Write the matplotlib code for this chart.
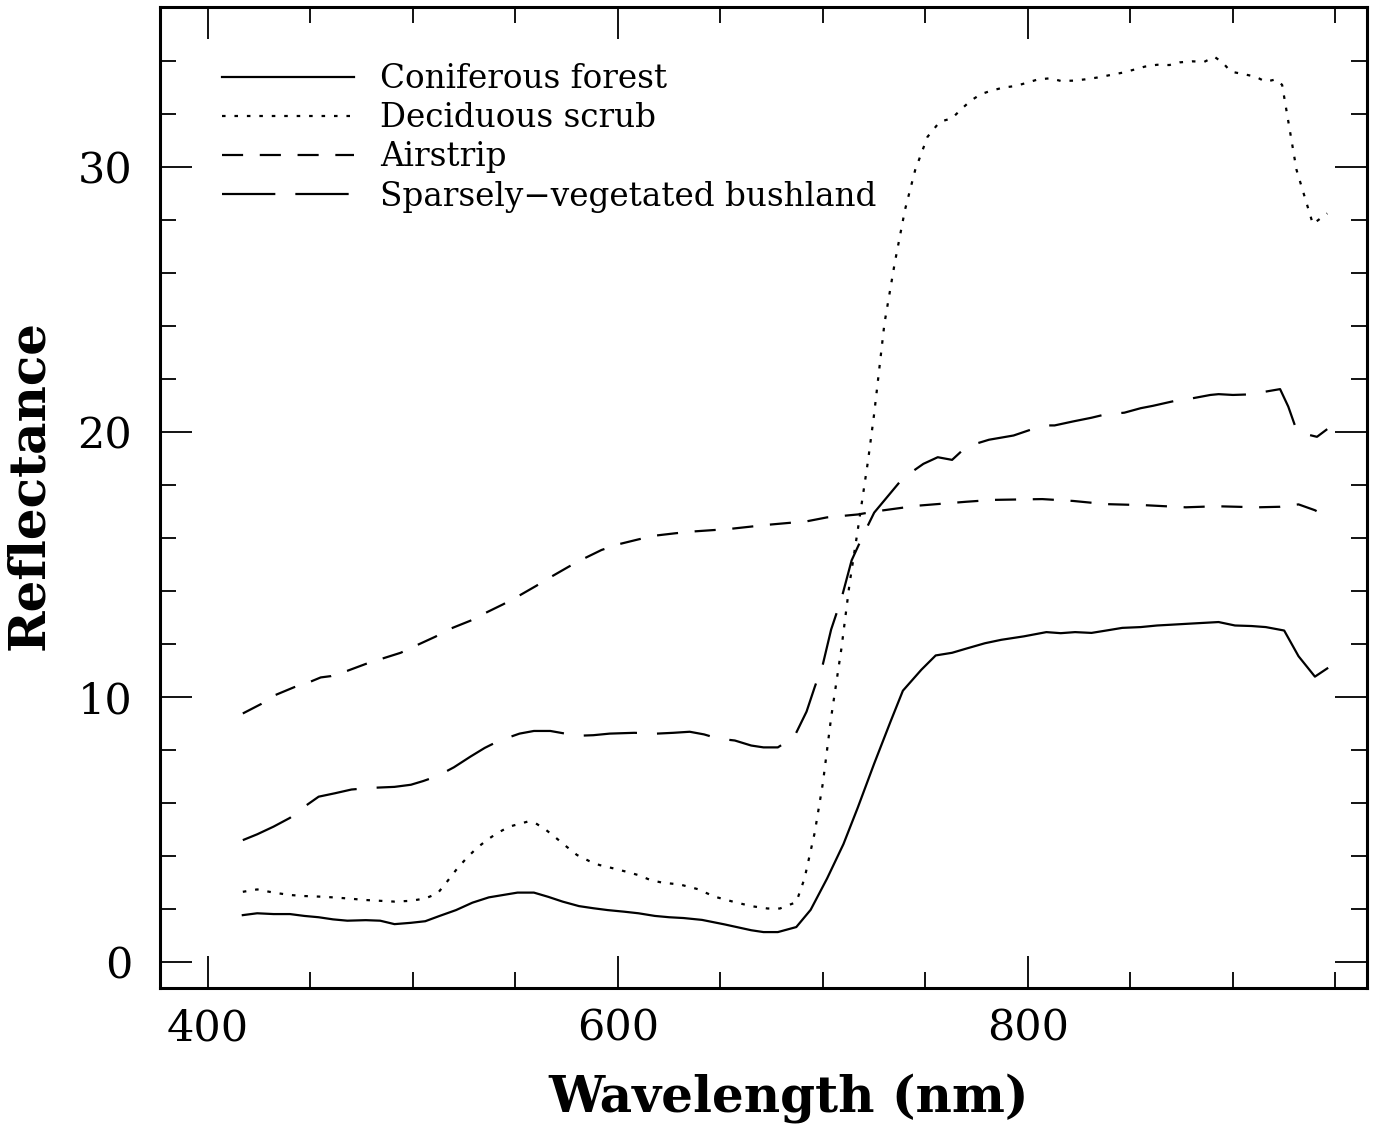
import matplotlib
matplotlib.use("Agg")
import matplotlib.pyplot as plt
from matplotlib.ticker import MultipleLocator

# ---- data (wavelength in nm, reflectance) ----
wl_conif = [417, 424, 432, 440, 447, 454, 461, 468, 477, 484, 491, 499, 506, 513, 521, 529, 537, 544, 551, 559,
            566, 573, 581, 588, 595, 603, 610, 618, 625, 632, 641, 652, 665, 671, 678, 687, 694, 702, 710, 717,
            725, 733, 739, 748, 755, 763, 770, 779, 787, 798, 809, 816, 823, 831, 839, 846, 855, 863, 870, 879,
            886, 893, 901, 909, 916, 925, 932, 940, 946]
refl_conif = [1.77, 1.84, 1.81, 1.81, 1.74, 1.69, 1.61, 1.56, 1.58, 1.56, 1.43, 1.48, 1.54, 1.74, 1.96, 2.24, 2.44, 2.53, 2.62, 2.62,
              2.46, 2.28, 2.11, 2.03, 1.96, 1.90, 1.84, 1.74, 1.69, 1.66, 1.59, 1.42, 1.20, 1.13, 1.13, 1.32, 1.97, 3.15, 4.45, 5.83,
              7.49, 9.08, 10.24, 11.03, 11.57, 11.67, 11.83, 12.03, 12.16, 12.29, 12.45, 12.41, 12.45, 12.42, 12.52, 12.61, 12.64, 12.70, 12.73, 12.77,
              12.80, 12.83, 12.70, 12.68, 12.64, 12.51, 11.54, 10.77, 11.08]

wl_decid = [417, 424, 432, 440, 447, 454, 461, 468, 477, 484, 491, 499, 506, 512, 516, 521, 526, 531, 536, 541,
            547, 556, 560, 565, 570, 575, 580, 586, 591, 598, 604, 610, 616, 622, 630, 639, 647, 656, 665, 673,
            679, 687, 691, 696, 700, 704, 709, 713, 717, 722, 725, 730, 735, 740, 745, 751, 757, 763, 767, 772,
            777, 782, 788, 794, 799, 805, 811, 816, 822, 828, 834, 840, 846, 851, 857, 863, 869, 874, 880, 886,
            891, 895, 899, 905, 911, 916, 921, 924, 931, 939, 946]
refl_decid = [2.65, 2.74, 2.62, 2.53, 2.49, 2.47, 2.44, 2.40, 2.34, 2.31, 2.28, 2.31, 2.40, 2.59, 2.97, 3.47, 3.91, 4.29, 4.60, 4.86,
              5.11, 5.30, 5.23, 4.98, 4.67, 4.35, 4.04, 3.81, 3.66, 3.53, 3.41, 3.28, 3.09, 2.99, 2.93, 2.75, 2.47, 2.28, 2.11, 2.02,
              2.02, 2.26, 3.15, 4.89, 6.77, 9.23, 11.83, 14.29, 16.31, 18.92, 20.70, 24.10, 26.37, 28.38, 29.89, 31.14, 31.71, 31.84, 32.15, 32.50,
              32.75, 32.88, 33.00, 33.06, 33.17, 33.31, 33.35, 33.25, 33.26, 33.31, 33.38, 33.47, 33.56, 33.66, 33.79, 33.86, 33.85, 33.95, 33.99, 33.97,
              34.16, 33.94, 33.60, 33.51, 33.41, 33.22, 33.31, 33.10, 29.90, 27.85, 28.25]

wl_air = [417, 426, 433, 442, 450, 455, 460, 468, 477, 485, 494, 502, 511, 518, 528, 535, 544, 551, 560, 567,
          576, 583, 592, 600, 610, 618, 628, 637, 654, 673, 692, 702, 717, 726, 746, 770, 783, 807, 822, 838,
          857, 877, 892, 912, 923, 932, 940, 947]
refl_air = [9.38, 9.74, 10.08, 10.37, 10.58, 10.74, 10.79, 10.99, 11.25, 11.45, 11.67, 11.96, 12.28, 12.57, 12.88, 13.16, 13.50, 13.79, 14.19, 14.52,
            14.92, 15.21, 15.55, 15.76, 15.95, 16.09, 16.18, 16.25, 16.34, 16.50, 16.63, 16.78, 16.89, 17.01, 17.22, 17.37, 17.44, 17.47, 17.40, 17.28,
            17.24, 17.16, 17.20, 17.16, 17.18, 17.27, 17.05, 16.75]

wl_bush = [417, 424, 432, 440, 447, 454, 462, 470, 479, 491, 499, 505, 512, 520, 528, 535, 542, 552, 559, 567,
           575, 581, 588, 596, 608, 619, 627, 635, 642, 649, 657, 665, 671, 678, 686, 692, 696, 700, 704, 709,
           714, 720, 725, 732, 739, 749, 756, 763, 770, 781, 793, 801, 808, 813, 822, 831, 838, 847, 855, 861,
           869, 876, 880, 889, 893, 900, 908, 914, 923, 927, 931, 934, 941, 946]
refl_bush = [4.60, 4.82, 5.11, 5.44, 5.86, 6.24, 6.37, 6.51, 6.57, 6.61, 6.69, 6.83, 7.02, 7.35, 7.75, 8.08, 8.35, 8.62, 8.72, 8.72,
             8.61, 8.54, 8.56, 8.62, 8.65, 8.62, 8.65, 8.69, 8.59, 8.43, 8.36, 8.17, 8.10, 8.10, 8.50, 9.45, 10.38, 11.25, 12.55, 13.71,
             15.16, 16.17, 16.96, 17.61, 18.26, 18.80, 19.05, 18.95, 19.45, 19.71, 19.87, 20.08, 20.25, 20.25, 20.40, 20.54, 20.67, 20.73, 20.90, 20.99,
             21.13, 21.25, 21.27, 21.40, 21.43, 21.40, 21.42, 21.50, 21.62, 20.96, 20.08, 19.95, 19.82, 20.11]

labels = ["Coniferous forest", "Deciduous scrub", "Airstrip", "Sparsely\u2212vegetated bushland"]
x_ticks = [400, 600, 800]
y_ticks = [0, 10, 20, 30]

plt.rcParams['font.family'] = ['DejaVu Serif']

fig = plt.figure(figsize=(13.87, 11.30), dpi=100)
ax = fig.add_axes([160/1387, 1 - 988/1130, 1207/1387, 981/1130])

lw = 1.6
ax.plot(wl_conif, refl_conif, color='black', lw=lw, linestyle='-', label=labels[0])
ax.plot(wl_decid, refl_decid, color='black', lw=lw, linestyle=(0, (1.6, 4.0)), label=labels[1])
ax.plot(wl_air, refl_air, color='black', lw=lw, linestyle=(0, (9.5, 7.5)), label=labels[2])
ax.plot(wl_bush, refl_bush, color='black', lw=lw, linestyle=(0, (24, 9)), label=labels[3])

ax.set_xlim(376.6, 965.4)
ax.set_ylim(-0.98, 36.04)
ax.set_xticks(x_ticks)
ax.set_yticks(y_ticks)
ax.xaxis.set_minor_locator(MultipleLocator(50))
ax.yaxis.set_minor_locator(MultipleLocator(2))
ax.tick_params(which='both', direction='in', top=True, right=True, width=1.3, colors='black')
ax.tick_params(which='major', length=23)
ax.tick_params(which='minor', length=11.5)
ax.tick_params(axis='x', which='major', labelsize=31, pad=14)
ax.tick_params(axis='y', which='major', labelsize=31, pad=20)
for s in ax.spines.values():
    s.set_linewidth(2.2)

ax.set_xlabel("Wavelength (nm)", fontsize=36, fontweight='bold')
ax.set_ylabel("Reflectance", fontsize=36, fontweight='bold')
ax.xaxis.set_label_coords((789 - 160) / 1207, -(1098 - 988) / 981)
ax.yaxis.set_label_coords(-(160 - 30) / 1207, (988 - 485) / 981)
ax.xaxis.label.set_va('center')
ax.yaxis.label.set_va('center')

leg = ax.legend(loc='upper left', frameon=False,
                prop={'family': 'DejaVu Serif', 'size': 23.5},
                handlelength=4.05, handletextpad=0.8, labelspacing=0.22,
                borderaxespad=0.0, borderpad=0.0,
                bbox_to_anchor=(62/1207, 1 - 56/981))

fig.savefig("out.png", dpi=100)
